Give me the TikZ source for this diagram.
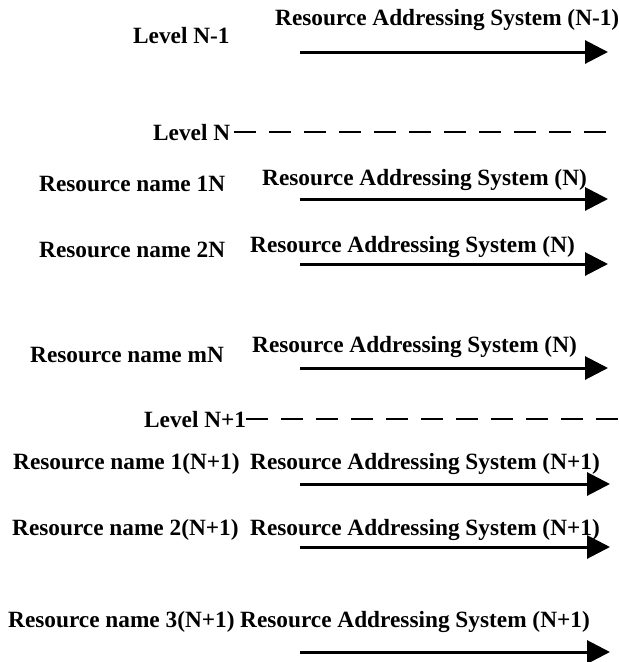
\documentclass[tikz,border=0pt]{standalone}
\usepackage{fontspec}
\setmainfont{Liberation Serif}
\usetikzlibrary{arrows.meta}

\tikzset{
    lbl/.style={font=\fontsize{23.3}{27}\selectfont\bfseries, inner sep=0pt, anchor=base west},
    addr/.style={line width=3pt, -{Triangle[length=23pt,width=23pt]}},
    levelline/.style={line width=2.8pt, dash pattern=on 22pt off 13pt}
}

\begin{document}
\begin{tikzpicture}[x=1pt,y=-1pt]
\useasboundingbox (0,0) rectangle (619,662);

% ===== Level N-1 =====
\node[lbl] (lvA)  at (133,43) {Level N-1};
\node[lbl] (rasA) at (275,25) {Resource Addressing System (N-1)};
\coordinate (sA) at (300,52); \coordinate (eA) at (608,52);
\draw[addr] (sA) -- (eA);

% ===== Level N =====
\node[lbl] (lvB) at (153,140) {Level N};
\coordinate (dB) at (610,133);
\draw[levelline] ([xshift=4pt]lvB.east) -- (lvB.east -| dB);

\node[lbl] (rnB1)  at (39,191) {Resource name 1N};
\node[lbl] (rasB1) at (262,185) {Resource Addressing System (N)};
\coordinate (sB1) at (300,199); \coordinate (eB1) at (608,199);
\draw[addr] (sB1) -- (eB1);

\node[lbl] (rnB2)  at (39,257) {Resource name 2N};
\node[lbl] (rasB2) at (250,252) {Resource Addressing System (N)};
\coordinate (sB2) at (300,264); \coordinate (eB2) at (608,264);
\draw[addr] (sB2) -- (eB2);

\node[lbl] (rnBm)  at (30,362) {Resource name mN};
\node[lbl] (rasBm) at (252,352) {Resource Addressing System (N)};
\coordinate (sBm) at (300,368); \coordinate (eBm) at (608,368);
\draw[addr] (sBm) -- (eBm);

% ===== Level N+1 =====
\node[lbl] (lvC) at (144,427) {Level N+1};
\coordinate (dC) at (619,420);
\draw[levelline] (lvC.east) -- (lvC.east -| dC);

\node[lbl] (rnC1)  at (13,469) {Resource name 1(N+1)};
\node[lbl] (rasC1) at (250,469) {Resource Addressing System (N+1)};
\coordinate (sC1) at (300,484); \coordinate (eC1) at (610,484);
\draw[addr] (sC1) -- (eC1);

\node[lbl] (rnC2)  at (12,535) {Resource name 2(N+1)};
\node[lbl] (rasC2) at (250,535) {Resource Addressing System (N+1)};
\coordinate (sC2) at (300,547); \coordinate (eC2) at (610,547);
\draw[addr] (sC2) -- (eC2);

\node[lbl] (rnC3)  at (8,627) {Resource name 3(N+1)};
\node[lbl] (rasC3) at (240,627) {Resource Addressing System (N+1)};
\coordinate (sC3) at (300,652); \coordinate (eC3) at (610,652);
\draw[addr] (sC3) -- (eC3);

\end{tikzpicture}
\end{document}
